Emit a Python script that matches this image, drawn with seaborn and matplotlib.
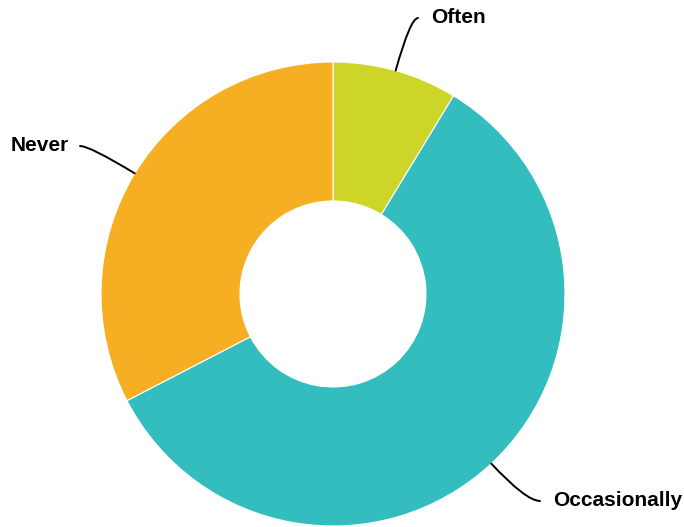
import numpy as np
import matplotlib
matplotlib.use("Agg")
import matplotlib.pyplot as plt
import seaborn as sns

# Donut verisi (saat yönünde, tepeden başlayarak)
labels = ["Often", "Occasionally", "Never"]
values = [8.7, 58.7, 32.6]
colors = ["#cdd628", "#33bdbf", "#f6ae22"]

sns.set_theme(style="white")
plt.rcParams["font.family"] = ["Liberation Sans", "DejaVu Sans"]

fig = plt.figure(figsize=(6.84, 5.27), dpi=100)
ax = fig.add_axes([0, 0, 1, 1])

cx, cy, r = 333, 527 - 294, 232
wedges, _ = ax.pie(values, colors=colors, startangle=90, counterclock=False,
                   center=(cx, cy), radius=r, frame=True,
                   wedgeprops=dict(width=r - 93, edgecolor="white", linewidth=0.8))
ax.set_xlim(0, 684)
ax.set_ylim(0, 527)
ax.set_aspect("equal")
ax.axis("off")

# Etiketler ve kavisli bağlantı çizgileri
ends = {"Often": (418, 527 - 18), "Occasionally": (540, 527 - 501), "Never": (80, 527 - 146)}
for w, lab in zip(wedges, labels):
    mid = np.deg2rad((w.theta1 + w.theta2) / 2)
    px, py = cx + r * np.cos(mid), cy + r * np.sin(mid)
    ex, ey = ends[lab]
    right = ex > cx
    ax.annotate("", xy=(px, py), xytext=(ex, ey),
                arrowprops=dict(arrowstyle="-", color="black", lw=1.4,
                                shrinkA=0, shrinkB=0,
                                connectionstyle=f"angle3,angleA=0,angleB={np.rad2deg(mid):.1f}"))
    ax.text(ex + (13 if right else -11), ey + 0.5, lab, ha="left" if right else "right",
            va="center", fontsize=15, fontweight="bold", color="black")

fig.savefig("out.png", dpi=100)
